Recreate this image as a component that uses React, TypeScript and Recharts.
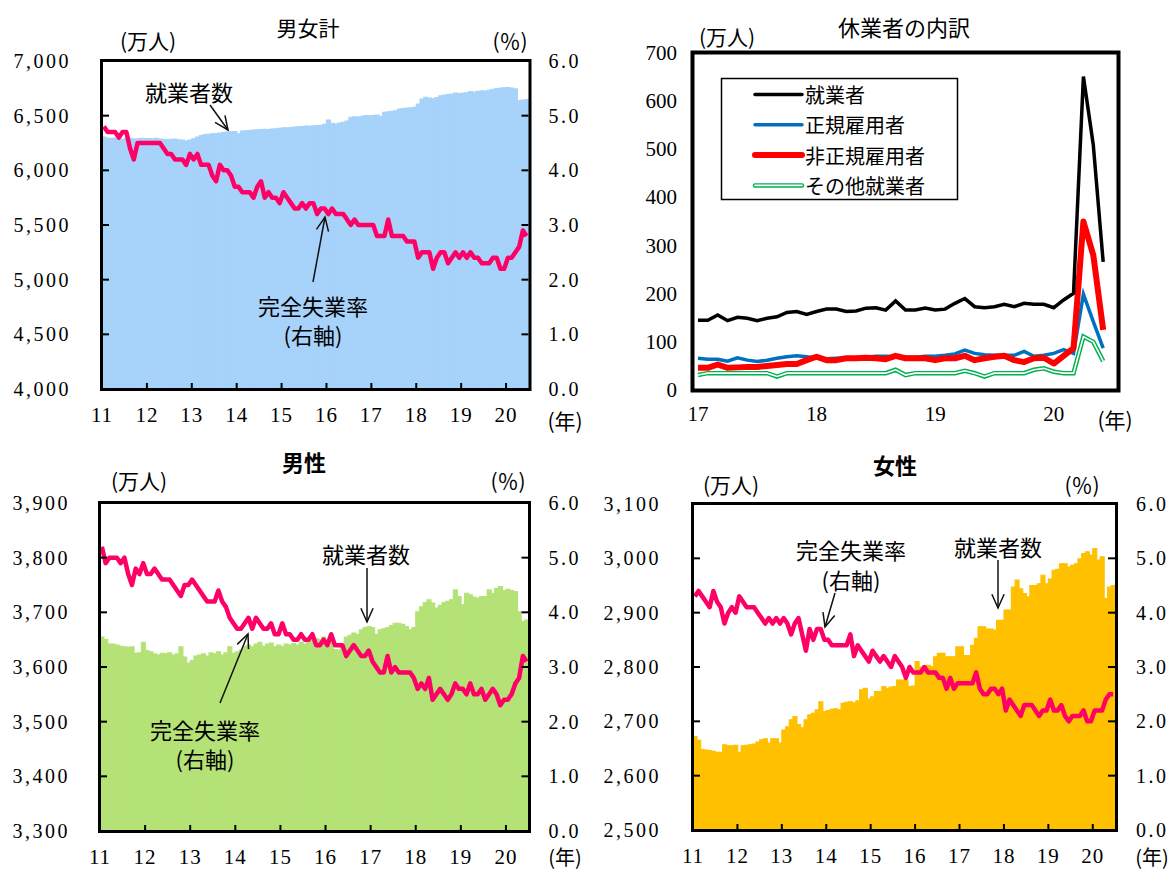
import React from 'react';
import { ComposedChart, LineChart, Bar, Line, XAxis, YAxis } from 'recharts';

const yearLabels = ['11', '12', '13', '14', '15', '16', '17', '18', '19', '20'];
const yearTicks = [0, 12, 24, 36, 48, 60, 72, 84, 96, 108];
const rateTicks = [0, 1, 2, 3, 4, 5, 6];

// 就業者数（万人）男女計  2011年1月〜2020年6月
const totalEmployed = [
  6305, 6295, 6290, 6295, 6288, 6285, 6290, 6292, 6285, 6288, 6292, 6290,
  6290, 6288, 6292, 6285, 6282, 6280, 6284, 6286, 6280, 6276, 6268, 6278,
  6288, 6305, 6318, 6328, 6330, 6335, 6336, 6340, 6345, 6350, 6352, 6355,
  6335, 6360, 6362, 6365, 6368, 6370, 6372, 6375, 6372, 6378, 6380, 6385,
  6388, 6390, 6392, 6395, 6398, 6400, 6405, 6402, 6408, 6410, 6412, 6420,
  6461, 6430, 6424, 6432, 6439, 6450, 6485, 6490, 6488, 6495, 6500, 6498,
  6500, 6506, 6495, 6530, 6535, 6540, 6545, 6560, 6565, 6570, 6572, 6576,
  6606, 6652, 6667, 6660, 6655, 6665, 6682, 6688, 6692, 6697, 6706, 6700,
  6706, 6712, 6720, 6715, 6722, 6728, 6725, 6735, 6742, 6748, 6752, 6755,
  6757, 6752, 6745, 6636, 6642, 6648,
];
// 完全失業率（％）男女計
const totalRate = [
  4.8, 4.7, 4.7, 4.7, 4.6, 4.7, 4.7, 4.4, 4.2, 4.5, 4.5, 4.5,
  4.5, 4.5, 4.5, 4.5, 4.4, 4.3, 4.3, 4.2, 4.2, 4.2, 4.1, 4.3,
  4.2, 4.3, 4.1, 4.1, 4.1, 3.9, 3.8, 4.1, 4.0, 4.0, 3.9, 3.7,
  3.7, 3.6, 3.6, 3.6, 3.5, 3.7, 3.8, 3.5, 3.6, 3.5, 3.5, 3.4,
  3.6, 3.5, 3.4, 3.3, 3.3, 3.4, 3.3, 3.4, 3.4, 3.2, 3.3, 3.3,
  3.2, 3.3, 3.2, 3.2, 3.2, 3.1, 3.0, 3.1, 3.0, 3.0, 3.0, 3.0,
  3.0, 2.8, 2.8, 2.8, 3.1, 2.8, 2.8, 2.8, 2.8, 2.7, 2.7, 2.7,
  2.4, 2.5, 2.5, 2.5, 2.2, 2.4, 2.5, 2.5, 2.3, 2.4, 2.5, 2.4,
  2.5, 2.4, 2.5, 2.4, 2.4, 2.3, 2.3, 2.3, 2.4, 2.4, 2.2, 2.2,
  2.4, 2.4, 2.5, 2.6, 2.9, 2.8,
];

// 男性
const maleEmployed = [
  3655, 3650, 3642, 3642, 3640, 3638, 3637, 3636, 3637, 3625, 3626, 3645,
  3630, 3628, 3624, 3622, 3625, 3624, 3626, 3622, 3624, 3637, 3618, 3607,
  3612, 3620, 3622, 3624, 3620, 3626, 3624, 3628, 3622, 3626, 3637, 3625,
  3628, 3631, 3638, 3640, 3637, 3642, 3645, 3638, 3642, 3644, 3637, 3640,
  3638, 3642, 3640, 3643, 3640, 3645, 3642, 3646, 3648, 3652, 3650, 3655,
  3648, 3645, 3632, 3631, 3640, 3655, 3658, 3662, 3660, 3668, 3672, 3674,
  3672, 3660, 3668, 3670, 3672, 3676, 3680, 3680, 3678, 3674, 3668, 3672,
  3701, 3710, 3718, 3723, 3717, 3708, 3713, 3718, 3720, 3723, 3741, 3729,
  3714, 3735, 3732, 3728, 3726, 3729, 3729, 3741, 3735, 3744, 3747, 3740,
  3742, 3740, 3738, 3701, 3683, 3686,
];
const maleRate = [
  5.2, 4.9, 5.0, 5.0, 5.0, 4.9, 5.0, 4.7, 4.5, 4.8, 4.7, 4.9,
  4.7, 4.7, 4.8, 4.7, 4.6, 4.6, 4.6, 4.5, 4.4, 4.3, 4.5, 4.5,
  4.6, 4.5, 4.4, 4.3, 4.2, 4.2, 4.2, 4.4, 4.2, 4.1, 3.9, 3.8,
  3.7, 3.7, 3.8, 3.9, 3.7, 3.9, 3.8, 3.7, 3.7, 3.8, 3.6, 3.6,
  3.8, 3.6, 3.6, 3.5, 3.5, 3.6, 3.5, 3.5, 3.6, 3.4, 3.4, 3.5,
  3.4, 3.6, 3.4, 3.4, 3.4, 3.2, 3.3, 3.4, 3.3, 3.2, 3.2, 3.3,
  3.1, 3.0, 2.9, 2.9, 3.2, 2.9, 3.0, 2.9, 2.9, 2.9, 2.9, 2.8,
  2.6, 2.7, 2.6, 2.8, 2.4, 2.5, 2.6, 2.5, 2.4, 2.5, 2.7, 2.6,
  2.6, 2.5, 2.7, 2.5, 2.5, 2.6, 2.4, 2.5, 2.6, 2.5, 2.3, 2.4,
  2.4, 2.5, 2.7, 2.8, 3.2, 3.1,
];

// 女性
const femaleEmployed = [
  2672, 2665, 2648, 2647, 2646, 2645, 2643, 2643, 2657, 2655, 2655, 2656,
  2643, 2655, 2656, 2657, 2658, 2662, 2666, 2668, 2660, 2668, 2668, 2660,
  2684, 2690, 2703, 2709, 2694, 2688, 2703, 2712, 2715, 2721, 2736, 2718,
  2720, 2722, 2723, 2721, 2733, 2735, 2736, 2734, 2738, 2758, 2761, 2741,
  2745, 2755, 2755, 2764, 2761, 2763, 2764, 2776, 2776, 2776, 2764, 2765,
  2810, 2800, 2802, 2803, 2801, 2819, 2825, 2825, 2819, 2819, 2819, 2837,
  2837, 2821, 2821, 2840, 2853, 2874, 2874, 2870, 2870, 2868, 2886, 2886,
  2905, 2905, 2947, 2960, 2944, 2935, 2929, 2950, 2950, 2953, 2969, 2953,
  2962, 2978, 2980, 2990, 2990, 2984, 2987, 2990, 2999, 3009, 3012, 3006,
  3018, 2997, 3003, 2926, 2947, 2950,
];
const femaleRate = [
  4.3, 4.4, 4.3, 4.2, 4.1, 4.4, 4.2, 4.1, 3.8, 4.0, 4.1, 4.0,
  4.3, 4.2, 4.1, 4.1, 4.1, 4.0, 3.9, 3.8, 3.9, 3.8, 3.9, 3.8,
  3.9, 3.8, 3.6, 3.8, 3.9, 3.6, 3.3, 3.7, 3.5, 3.7, 3.7, 3.5,
  3.5, 3.4, 3.4, 3.4, 3.4, 3.4, 3.6, 3.2, 3.4, 3.3, 3.2, 3.1,
  3.3, 3.2, 3.1, 3.2, 3.1, 3.0, 3.2, 3.1, 3.0, 2.8, 3.0, 2.9,
  2.9, 2.9, 3.0, 2.9, 2.9, 2.9, 2.8, 2.8, 2.6, 2.8, 2.6, 2.7,
  2.7, 2.7, 2.7, 2.7, 2.9, 2.6, 2.5, 2.5, 2.6, 2.6, 2.5, 2.6,
  2.2, 2.4, 2.3, 2.2, 2.1, 2.3, 2.3, 2.3, 2.2, 2.1, 2.2, 2.2,
  2.4, 2.2, 2.2, 2.3, 2.1, 2.0, 2.1, 2.1, 2.1, 2.2, 2.0, 2.0,
  2.2, 2.2, 2.2, 2.4, 2.5, 2.5,
];

// 休業者の内訳（万人） 2017年1月〜2020年6月
const leaveYearLabels = ['17', '18', '19', '20'];
const leaveYearTicks = [0, 12, 24, 36];
const leaveTicks = [0, 100, 200, 300, 400, 500, 600, 700];
const leaveAll = [
  145, 145, 156, 144, 151, 149, 144, 149, 152, 161, 163, 157,
  163, 168, 168, 163, 164, 170, 171, 166, 185, 166, 166, 170,
  166, 168, 180, 190, 173, 171, 173, 178, 173, 180, 178, 178,
  171, 187, 201, 651, 509, 266,
];
const leaveRegular = [
  66, 64, 64, 60, 67, 62, 59, 62, 66, 69, 71, 69,
  66, 65, 66, 67, 67, 68, 70, 70, 69, 68, 68, 70,
  70, 72, 75, 83, 76, 73, 72, 72, 72, 80, 70, 72,
  76, 84, 76, 199, 142, 87,
];
const leaveNonRegular = [
  46, 46, 53, 46, 47, 48, 48, 50, 52, 54, 54, 62,
  69, 62, 62, 66, 66, 67, 66, 64, 71, 66, 66, 66,
  62, 66, 66, 71, 62, 66, 69, 71, 62, 58, 66, 67,
  55, 71, 87, 350, 280, 125,
];
const leaveOther = [
  31, 35, 35, 35, 35, 35, 35, 35, 28, 35, 35, 35,
  35, 35, 35, 35, 35, 35, 35, 35, 42, 31, 35, 35,
  35, 35, 35, 40, 35, 28, 35, 35, 35, 35, 42, 45,
  38, 35, 35, 111, 100, 60,
];

const NUM_FONT = "'Liberation Serif', 'Times New Roman', serif";
const JP_FONT = "'Noto Sans CJK JP', 'Noto Sans', sans-serif";
const RATE_COLOR = '#ff0066';
const W = 1175;
const H = 869;

const monthly = (emp: number[], rate: number[]) =>
  emp.map((v, i) => ({ x: i + 0.5, emp: v, rate: rate[i] }));

const leaveData = leaveAll.map((v, i) => ({
  x: i,
  all: v,
  regular: leaveRegular[i],
  nonRegular: leaveNonRegular[i],
  other: leaveOther[i],
}));

const tickLineStyle = { stroke: '#000', strokeWidth: 2 };

const numText = (x: number, y: number, anchor: string, label: string, size = 20, spacing = 2.5) => (
  <text x={x} y={y} textAnchor={anchor} fontFamily={NUM_FONT} fontSize={size} letterSpacing={spacing} fill="#000">
    {label}
  </text>
);

const empTick = (p: any) => numText(p.x, p.y + 7, 'end', Number(p.payload.value).toLocaleString('en-US'));
const rateTick = (p: any) => numText(p.x, p.y + 7, 'start', Number(p.payload.value).toFixed(1));
const yearTick = (p: any) =>
  numText(p.x, p.y + 14, 'middle', yearLabels[yearTicks.indexOf(p.payload.value)] ?? '', 21, 1);

type Plot = { l: number; r: number; t: number; b: number };

function EmploymentChart({ data, color, empTicks, plot, leftGap, rightGap }: {
  data: { x: number; emp: number; rate: number }[];
  color: string;
  empTicks: number[];
  plot: Plot;
  leftGap: number;
  rightGap: number;
}) {
  const xh = 30;
  const ry = 60;
  return (
    <div style={{ position: 'absolute', left: 0, top: 0 }}>
      <ComposedChart
        width={W}
        height={H}
        data={data}
        barCategoryGap={0}
        barGap={0}
        margin={{ top: plot.t, left: 0, right: W - plot.r - ry, bottom: H - plot.b - xh }}
      >
        <XAxis
          dataKey="x"
          type="number"
          domain={[0, 114]}
          ticks={yearTicks}
          interval={0}
          height={xh}
          axisLine={false}
          tickSize={-6}
          tickMargin={25}
          tickLine={tickLineStyle}
          tick={yearTick}
        />
        <YAxis
          yAxisId="l"
          orientation="left"
          width={plot.l}
          domain={[empTicks[0], empTicks[empTicks.length - 1]]}
          ticks={empTicks}
          interval={0}
          axisLine={false}
          tickSize={-7}
          tickMargin={leftGap}
          tickLine={tickLineStyle}
          tick={empTick}
        />
        <YAxis
          yAxisId="r"
          orientation="right"
          width={ry}
          domain={[0, 6]}
          ticks={rateTicks}
          interval={0}
          axisLine={false}
          tickSize={-7}
          tickMargin={rightGap}
          tickLine={tickLineStyle}
          tick={rateTick}
        />
        <Bar yAxisId="l" dataKey="emp" fill={color} stroke={color} strokeWidth={1.1} isAnimationActive={false} />
        <Line
          yAxisId="r"
          dataKey="rate"
          stroke={RATE_COLOR}
          strokeWidth={4.5}
          strokeLinejoin="round"
          dot={false}
          activeDot={false}
          isAnimationActive={false}
        />
      </ComposedChart>
    </div>
  );
}

function LeaveChart() {
  const plot = { l: 693, r: 1118, t: 53, b: 390 };
  const xh = 40;
  return (
    <div style={{ position: 'absolute', left: 0, top: 0 }}>
      <LineChart
        width={W}
        height={H}
        data={leaveData}
        margin={{ top: plot.t, left: 0, right: W - plot.r, bottom: H - plot.b - xh }}
      >
        <XAxis
          dataKey="x"
          type="number"
          domain={[-0.5, 42.5]}
          ticks={leaveYearTicks}
          interval={0}
          height={xh}
          axisLine={false}
          tickLine={false}
          tickSize={0}
          tickMargin={17}
          tick={(p: any) =>
            numText(p.x, p.y + 14, 'middle', leaveYearLabels[leaveYearTicks.indexOf(p.payload.value)] ?? '', 21, 0)
          }
        />
        <YAxis
          width={plot.l}
          domain={[0, 700]}
          ticks={leaveTicks}
          interval={0}
          axisLine={false}
          tickLine={false}
          tickSize={0}
          tickMargin={16}
          tick={(p: any) => numText(p.x, p.y + 7, 'end', String(p.payload.value), 21, 0)}
        />
        <Line dataKey="other" stroke="#00b050" strokeWidth={4.5} dot={false} activeDot={false} isAnimationActive={false} />
        <Line dataKey="other" stroke="#ffffff" strokeWidth={1.6} dot={false} activeDot={false} isAnimationActive={false} />
        <Line dataKey="regular" stroke="#0070c0" strokeWidth={3.5} dot={false} activeDot={false} isAnimationActive={false} />
        <Line dataKey="nonRegular" stroke="#ff0000" strokeWidth={6} strokeLinejoin="round" dot={false} activeDot={false} isAnimationActive={false} />
        <Line dataKey="all" stroke="#000000" strokeWidth={3.5} dot={false} activeDot={false} isAnimationActive={false} />
      </LineChart>
    </div>
  );
}

function Label({ x, y, children, size = 21, weight = 400 }: any) {
  return (
    <text x={x} y={y} textAnchor="middle" dominantBaseline="central" fontFamily={JP_FONT} fontSize={size} fontWeight={weight} fill="#000">
      {children}
    </text>
  );
}

function Arrow({ from, to }: { from: [number, number]; to: [number, number] }) {
  const [x1, y1] = from;
  const [x2, y2] = to;
  const a = Math.atan2(y2 - y1, x2 - x1);
  const len = 15;
  const s = 0.42;
  const h1 = `${x2 - len * Math.cos(a - s)},${y2 - len * Math.sin(a - s)}`;
  const h2 = `${x2 - len * Math.cos(a + s)},${y2 - len * Math.sin(a + s)}`;
  return (
    <g stroke="#111" strokeWidth={1.5} fill="none">
      <line x1={x1} y1={y1} x2={x2} y2={y2} />
      <polyline points={`${h1} ${x2},${y2} ${h2}`} />
    </g>
  );
}

const legendItems = [
  { label: '就業者', color: '#000000', width: 3.5 },
  { label: '正規雇用者', color: '#0070c0', width: 3.5 },
  { label: '非正規雇用者', color: '#ff0000', width: 6 },
  { label: 'その他就業者', color: '#00b050', width: 4.5, double: true },
];

function Overlay() {
  return (
    <svg width={W} height={H} style={{ position: 'absolute', left: 0, top: 0, pointerEvents: 'none' }}>
      {/* plot frames */}
      <rect x={101.5} y={60.5} width={428.5} height={329} fill="none" stroke="#000" strokeWidth={3} />
      <rect x={99.5} y={502.5} width={430} height={329} fill="none" stroke="#000" strokeWidth={3} />
      <rect x={692.5} y={503.5} width={424} height={327} fill="none" stroke="#000" strokeWidth={3} />
      <rect x={692.5} y={52.5} width={426} height={338} fill="none" stroke="#000" strokeWidth={4} />

      {/* titles */}
      <Label x={308} y={27} size={21}>男女計</Label>
      <Label x={904} y={26} size={22}>休業者の内訳</Label>
      <Label x={304} y={461} size={22} weight={700}>男性</Label>
      <Label x={895} y={464} size={22} weight={700}>女性</Label>

      {/* units */}
      <Label x={148} y={40}>(万人)</Label>
      <Label x={510} y={40}>(％)</Label>
      <Label x={727} y={36}>(万人)</Label>
      <Label x={139} y={480}>(万人)</Label>
      <Label x={508} y={480}>(％)</Label>
      <Label x={731} y={484}>(万人)</Label>
      <Label x={1082} y={484}>(％)</Label>
      <Label x={565} y={420}>(年)</Label>
      <Label x={1115} y={419}>(年)</Label>
      <Label x={565} y={856} size={20}>(年)</Label>
      <Label x={1152} y={856} size={20}>(年)</Label>

      {/* annotations: 男女計 */}
      <Label x={189} y={91} size={22}>就業者数</Label>
      <Arrow from={[210, 105]} to={[228, 130]} />
      <Label x={313} y={305} size={22}>完全失業率</Label>
      <Label x={313} y={334} size={22}>(右軸)</Label>
      <Arrow from={[313, 282]} to={[325, 217]} />

      {/* annotations: 男性 */}
      <Label x={366} y={553} size={22}>就業者数</Label>
      <Arrow from={[367, 568]} to={[367, 622]} />
      <Label x={205} y={729} size={22}>完全失業率</Label>
      <Label x={205} y={758} size={22}>(右軸)</Label>
      <Arrow from={[220, 703]} to={[248, 634]} />

      {/* annotations: 女性 */}
      <Label x={851} y={549} size={22}>完全失業率</Label>
      <Label x={851} y={579} size={22}>(右軸)</Label>
      <Arrow from={[835, 593]} to={[825, 627]} />
      <Label x={998} y={546} size={22}>就業者数</Label>
      <Arrow from={[998, 560]} to={[998, 608]} />

      {/* legend of 休業者の内訳 */}
      <rect x={721.5} y={78.5} width={236} height={121} fill="#fff" stroke="#000" strokeWidth={1.5} />
      {legendItems.map((it, i) => {
        const y = 94.5 + i * 30.3;
        return (
          <g key={it.label}>
            <line x1={755} x2={802} y1={y} y2={y} stroke={it.color} strokeWidth={it.width} strokeLinecap="round" />
            {it.double && <line x1={755} x2={802} y1={y} y2={y} stroke="#fff" strokeWidth={1.6} strokeLinecap="round" />}
            <text x={805} y={y} dominantBaseline="central" fontFamily={JP_FONT} fontSize={20} fill="#000">
              {it.label}
            </text>
          </g>
        );
      })}
    </svg>
  );
}

export default function App() {
  return (
    <div style={{ position: 'absolute', left: 0, top: 0, width: W, height: H, overflow: 'hidden', background: '#fff' }}>
      <EmploymentChart
        data={monthly(totalEmployed, totalRate)}
        color="#a7d2fa"
        empTicks={[4000, 4500, 5000, 5500, 6000, 6500, 7000]}
        plot={{ l: 102, r: 528.5, t: 61, b: 389 }}
        leftGap={38}
        rightGap={27}
      />
      <EmploymentChart
        data={monthly(maleEmployed, maleRate)}
        color="#b4e277"
        empTicks={[3300, 3400, 3500, 3600, 3700, 3800, 3900]}
        plot={{ l: 100, r: 528.5, t: 503, b: 831 }}
        leftGap={37}
        rightGap={27}
      />
      <EmploymentChart
        data={monthly(femaleEmployed, femaleRate)}
        color="#ffc000"
        empTicks={[2500, 2600, 2700, 2800, 2900, 3000, 3100]}
        plot={{ l: 693, r: 1115, t: 504, b: 830 }}
        leftGap={39}
        rightGap={28}
      />
      <LeaveChart />
      <Overlay />
    </div>
  );
}
